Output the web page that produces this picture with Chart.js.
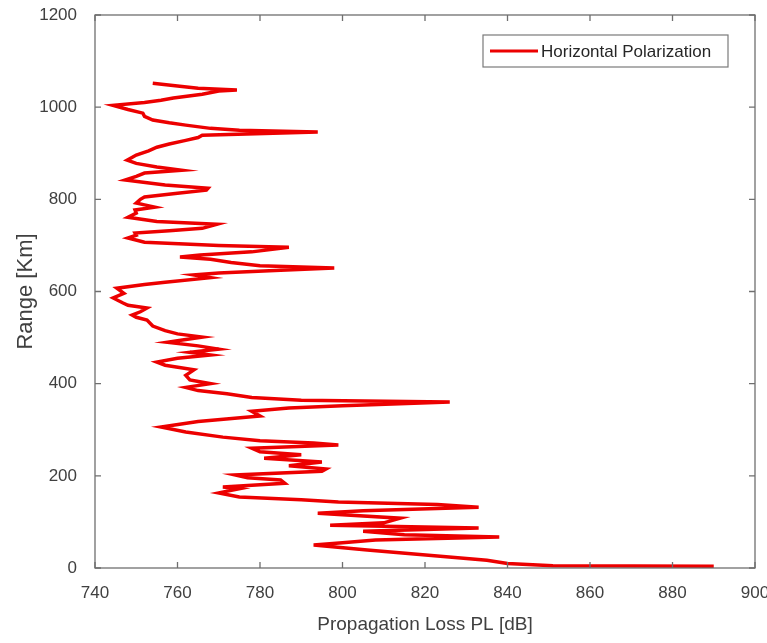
<!DOCTYPE html>
<html>
<head>
<meta charset="utf-8">
<script src="https://cdn.jsdelivr.net/npm/chart.js@4.4.1/dist/chart.umd.min.js"></script>
<style>
  body { margin: 0; background: #fff; }
  #wrap { width: 767px; height: 643px; }
</style>
</head>
<body>
<div id="wrap"><canvas id="plChart" width="767" height="643"></canvas></div>
<script>
// Range [Km] (vertical axis) and propagation loss [dB] (horizontal)
const rangeKm = [
  4, 5, 10, 17, 26, 39, 50, 55, 61, 67, 72, 80, 87, 93, 98, 108, 119, 124, 132, 138,
  143, 148, 154, 163, 172, 176, 184, 191, 196, 202, 210, 215, 222, 230, 238, 246, 252, 260, 267, 271,
  276, 284, 295, 306, 318, 330, 340, 347, 352, 360, 364, 370, 378, 385, 392, 400, 408, 418, 430, 440,
  447, 455, 462, 468, 475, 482, 490, 496, 501, 508, 515, 525, 538, 544, 549, 556, 564, 570, 575, 586,
  596, 607, 615, 620, 630, 636, 640, 646, 651, 656, 663, 670, 675, 679, 686, 696, 700, 707, 716, 722,
  727, 732, 737, 746, 752, 761, 770, 777, 783, 788, 792, 800, 805, 813, 820, 824, 831, 842, 850, 857,
  863, 870, 878, 885, 896, 905, 913, 920, 928, 934, 939, 946, 950, 954, 961, 966, 972, 980, 987, 995,
  1004, 1010, 1015, 1020, 1028, 1035, 1037, 1041, 1046, 1052
];
const lossDb = [
  890, 851, 840, 835, 823, 806, 793, 800, 808, 838, 815, 805, 833, 797, 810, 814, 794, 805, 833, 823,
  799, 790, 775, 770, 775, 771, 786, 785, 777, 774, 795, 796, 787, 795, 781, 790, 780, 778, 799, 793,
  780, 771, 762, 756, 765, 780, 778, 787, 800, 826, 790, 778, 772, 765, 762, 768, 763, 762, 764, 757,
  755, 760, 768, 763, 770, 765, 757.5, 762, 766, 760, 757, 754, 752.6, 750, 749, 751, 752.6, 748, 746.8, 744.4,
  747, 745.3, 752, 757, 768, 764, 770, 785, 798, 780, 773, 768, 760.6, 765.5, 778, 787, 770, 752, 748, 750,
  749.7, 758, 766, 769.6, 755, 748, 750, 749.7, 754.5, 752, 750, 751, 752, 760, 767, 767.4, 757, 747.3, 750, 752,
  761, 755, 750, 747.8, 750, 753, 755, 758, 762, 765, 766, 794, 775, 768, 762, 758, 754, 752, 751.6, 748,
  744.4, 752, 756, 759, 766, 770, 774.4, 765, 760, 754
];
const xTicks = [740, 760, 780, 800, 820, 840, 860, 880, 900];
const yTicks = [0, 200, 400, 600, 800, 1000, 1200];
const seriesName = "Horizontal Polarization";

const lineColor = "#ec0000";
const axisColor = "#6f6f6f";
const textColor = "#404040";
const fontName = "'Liberation Sans', Arial, sans-serif";

const puntos = rangeKm.map((r, i) => ({ x: lossDb[i], y: r }));

// caja, marcas hacia dentro y leyenda al estilo MATLAB
const marco = {
  id: "marco",
  afterDraw(chart) {
    const { ctx, chartArea: a, scales } = chart;
    const xs = scales.x;
    const ys = scales.y;
    ctx.save();
    ctx.strokeStyle = axisColor;
    ctx.lineWidth = 1.3;
    ctx.strokeRect(a.left, a.top, a.right - a.left, a.bottom - a.top);
    const largo = 6;
    ctx.beginPath();
    xTicks.forEach((v) => {
      const px = xs.getPixelForValue(v);
      ctx.moveTo(px, a.bottom);
      ctx.lineTo(px, a.bottom - largo);
      ctx.moveTo(px, a.top);
      ctx.lineTo(px, a.top + largo);
    });
    yTicks.forEach((v) => {
      const py = ys.getPixelForValue(v);
      ctx.moveTo(a.left, py);
      ctx.lineTo(a.left + largo, py);
      ctx.moveTo(a.right, py);
      ctx.lineTo(a.right - largo, py);
    });
    ctx.stroke();

    // leyenda
    const lx = 483, ly = 35, lw = 245, lh = 32;
    ctx.fillStyle = "#fff";
    ctx.fillRect(lx, ly, lw, lh);
    ctx.strokeStyle = "#7a7a7a";
    ctx.lineWidth = 1.2;
    ctx.strokeRect(lx, ly, lw, lh);
    ctx.strokeStyle = lineColor;
    ctx.lineWidth = 3;
    ctx.beginPath();
    ctx.moveTo(lx + 7, ly + lh / 2);
    ctx.lineTo(lx + 55, ly + lh / 2);
    ctx.stroke();
    ctx.fillStyle = "#262626";
    ctx.font = "17px " + fontName;
    ctx.textBaseline = "middle";
    ctx.fillText(seriesName, lx + 58, ly + lh / 2 + 1);
    ctx.restore();
  },
};

const ctxPL = document.getElementById("plChart").getContext("2d");
const plChart = new Chart(ctxPL, {
  type: "scatter",
  data: {
    datasets: [
      {
        label: seriesName,
        data: puntos,
        showLine: true,
        borderColor: lineColor,
        backgroundColor: lineColor,
        borderWidth: 3.5,
        pointRadius: 0,
        tension: 0,
      },
    ],
  },
  options: {
    responsive: false,
    animation: false,
    layout: { padding: { top: 15, right: 12, left: 0, bottom: 0 } },
    plugins: { legend: { display: false }, tooltip: { enabled: false } },
    scales: {
      x: {
        type: "linear",
        min: 740,
        max: 900,
        afterBuildTicks: (s) => { s.ticks = xTicks.map((v) => ({ value: v })); },
        afterFit: (s) => { s.height = 75; s.paddingLeft = 0; s.paddingRight = 0; },
        grid: { display: false },
        border: { display: false },
        ticks: {
          color: textColor,
          font: { size: 17, family: fontName },
          padding: 7,
          maxRotation: 0,
          callback: (v) => String(v),
        },
        title: {
          display: true,
          text: "Propagation Loss PL [dB]",
          color: textColor,
          font: { size: 19, family: fontName },
          padding: { top: 0, bottom: 7 },
        },
      },
      y: {
        type: "linear",
        min: 0,
        max: 1200,
        afterBuildTicks: (s) => { s.ticks = yTicks.map((v) => ({ value: v })); },
        afterFit: (s) => { s.width = 95; s.paddingTop = 0; s.paddingBottom = 0; },
        grid: { display: false },
        border: { display: false },
        ticks: {
          color: textColor,
          font: { size: 17, family: fontName },
          padding: 10,
          callback: (v) => String(v),
        },
        title: {
          display: true,
          text: "Range [Km]",
          color: textColor,
          font: { size: 22, family: fontName },
          padding: { top: 13, bottom: 0 },
        },
      },
    },
  },
  plugins: [marco],
});
</script>
</body>
</html>
